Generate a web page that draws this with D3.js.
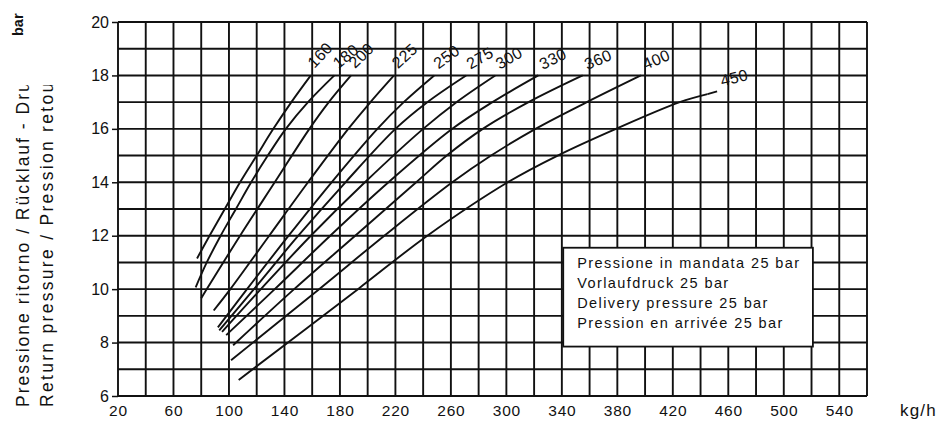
<!DOCTYPE html>
<html>
<head>
<meta charset="utf-8">
<script src="https://cdn.jsdelivr.net/npm/d3@7"></script>
<style>
  body { margin: 0; background: #fff; }
  svg { display: block; font-family: "Liberation Sans", Arial, sans-serif; }
</style>
</head>
<body>
<div id="chart"></div>
<script>
// tick labels
const xTicks = [20, 60, 100, 140, 180, 220, 260, 300, 340, 380, 420, 460, 500, 540];
const yTicks = [6, 8, 10, 12, 14, 16, 18, 20];

// one curve per return nozzle size, points are [kg/h, bar]
const curveNames = ["160", "180", "200", "225", "250", "275", "300", "330", "360", "400", "450"];
const c160 = [[77, 11.15], [86, 12], [97, 13], [108, 14], [120, 15], [132, 16], [145, 17], [159, 18]];
const c180 = [[76, 10.07], [84, 11], [94, 12], [105, 13], [116, 14], [128, 15], [141, 16], [157, 17], [176, 18]];
const c200 = [[80, 9.66], [84, 10], [108, 12], [133, 14], [158, 16], [172, 17], [188, 18]];
const c225 = [[89, 9.2], [101, 10], [129, 12], [157, 14], [186, 16], [202, 17], [219, 18]];
const c250 = [[92, 8.57], [113, 10], [143, 12], [174, 14], [207, 16], [226, 17], [248, 18]];
const c275 = [[93, 8.46], [118, 10], [150, 12], [184, 14], [220, 16], [243, 17], [271, 18]];
const c300 = [[95, 8.4], [123, 10], [159, 12], [198, 14], [240, 16], [264, 17], [292, 18]];
const c330 = [[98, 8.28], [133, 10], [173, 12], [215, 14], [261, 16], [290, 17], [323, 18]];
const c360 = [[103, 7.9], [147, 10], [191, 12], [235, 14], [257, 15], [283, 16], [316, 17], [355, 18]];
const c400 = [[101.5, 7.34], [165, 10], [212, 12], [261, 14], [289, 15], [321, 16], [358, 17], [397, 18]];
const c450 = [[107, 6.6], [193, 10], [243, 12], [301, 14], [337, 15], [379, 16], [425, 17], [445, 17.3]];
const curves = [c160, c180, c200, c225, c250, c275, c300, c330, c360, c400, c450];

const legendLines = [
    "Pressione in mandata 25 bar",
    "Vorlaufdruck 25 bar",
    "Delivery pressure 25 bar",
    "Pression en arrivée 25 bar"
];
const yTitleLines = ["Pressione ritorno / Rücklauf - Druck", "Return pressure  / Pression retour"];

const width = 945, height = 433;
const ink = "#111";

const svg = d3.select("#chart").append("svg")
    .attr("width", width)
    .attr("height", height);

const x = d3.scaleLinear().domain([20, 560]).range([118, 867]);
const y = d3.scaleLinear().domain([6, 20]).range([396, 22]);

// grid
const grid = svg.append("g").attr("stroke", ink).attr("stroke-width", 1.9);
grid.selectAll("line.v")
    .data(d3.range(20, 561, 20))
    .join("line").attr("class", "v")
    .attr("x1", d => x(d)).attr("x2", d => x(d))
    .attr("y1", y(6)).attr("y2", y(20));
grid.selectAll("line.h")
    .data(d3.range(6, 21, 1))
    .join("line").attr("class", "h")
    .attr("x1", x(20)).attr("x2", x(560))
    .attr("y1", d => y(d)).attr("y2", d => y(d));

// axes
svg.append("g")
    .attr("transform", `translate(${x(20)},0)`)
    .call(d3.axisLeft(y).tickValues(yTicks).tickSize(6).tickPadding(3))
    .call(g => g.select(".domain").remove())
    .call(g => g.selectAll("line").attr("stroke", ink).attr("stroke-width", 1.5))
    .call(g => g.selectAll("text")
        .attr("font-family", "Liberation Sans, Arial, sans-serif")
        .attr("font-size", 16).attr("fill", ink));

svg.append("g")
    .attr("transform", `translate(0,${y(6)})`)
    .call(d3.axisBottom(x).tickValues(xTicks).tickSize(0).tickPadding(9))
    .call(g => g.select(".domain").remove())
    .call(g => g.selectAll("text")
        .attr("font-family", "Liberation Sans, Arial, sans-serif")
        .attr("font-size", 15.5).attr("letter-spacing", 0.8).attr("fill", ink));

svg.append("text")
    .attr("x", 900).attr("y", 416)
    .attr("font-size", 17).attr("letter-spacing", 1.2).attr("fill", ink)
    .text("kg/h");

// curves
const line = d3.line()
    .x(d => x(d[0]))
    .y(d => y(d[1]))
    .curve(d3.curveCatmullRom.alpha(0.5));

svg.append("g")
    .selectAll("path")
    .data(curves)
    .join("path")
    .attr("d", line)
    .attr("fill", "none")
    .attr("stroke", ink)
    .attr("stroke-width", 1.9);

// curve labels, turned roughly along the end of each curve
const labels = svg.append("g");
curves.forEach((pts, i) => {
    const a = pts[pts.length - 2], b = pts[pts.length - 1];
    const dx = x(b[0]) - x(a[0]), dy = y(b[1]) - y(a[1]);
    const len = Math.hypot(dx, dy);
    const ux = dx / len, uy = dy / len;
    const ang = Math.atan2(dy, dx) * 180 / Math.PI * 0.87;
    const last = i === curves.length - 1;
    let off = 3;
    if (last) {
        labels.append("line")
            .attr("x1", x(b[0])).attr("y1", y(b[1]))
            .attr("x2", x(b[0]) + ux * 10).attr("y2", y(b[1]) + uy * 10)
            .attr("stroke", ink).attr("stroke-width", 1.9);
        off = 13;
    }
    const px = x(b[0]) + ux * off + 2;
    const py = y(b[1]) + uy * off - 4;
    labels.append("text")
        .attr("transform", `translate(${px},${py}) rotate(${ang})`)
        .attr("font-size", 16)
        .attr("letter-spacing", 0.4)
        .attr("fill", ink)
        .text(curveNames[i]);
});

// legend box
const bx0 = x(341), bx1 = x(521), by0 = y(11.55), by1 = y(7.85);
const lg = svg.append("g");
lg.append("rect")
    .attr("x", bx0).attr("y", by0)
    .attr("width", bx1 - bx0).attr("height", by1 - by0)
    .attr("fill", "#fff").attr("stroke", ink).attr("stroke-width", 1.8);
lg.selectAll("text")
    .data(legendLines)
    .join("text")
    .attr("x", bx0 + 14)
    .attr("y", (d, i) => by0 + 20 + i * 20)
    .attr("font-size", 14.5)
    .attr("letter-spacing", 1.4)
    .attr("fill", ink)
    .text(d => d);

// y title, cut at the top like the scan
svg.append("defs").append("clipPath").attr("id", "titleClip")
    .append("rect").attr("x", 0).attr("y", 85).attr("width", 80).attr("height", 350);

svg.append("g").attr("clip-path", "url(#titleClip)")
    .selectAll("text")
    .data(yTitleLines)
    .join("text")
    .attr("transform", (d, i) => `translate(${29 + i * 24},407) rotate(-90)`)
    .attr("font-size", 17.5)
    .attr("letter-spacing", (d, i) => i ? 2.3 : 2)
    .attr("fill", ink)
    .text(d => d);

svg.append("text")
    .attr("transform", "translate(23,36) rotate(-90)")
    .attr("font-size", 14.5)
    .attr("font-weight", "bold")
    .attr("fill", ink)
    .text("bar");
</script>
</body>
</html>
